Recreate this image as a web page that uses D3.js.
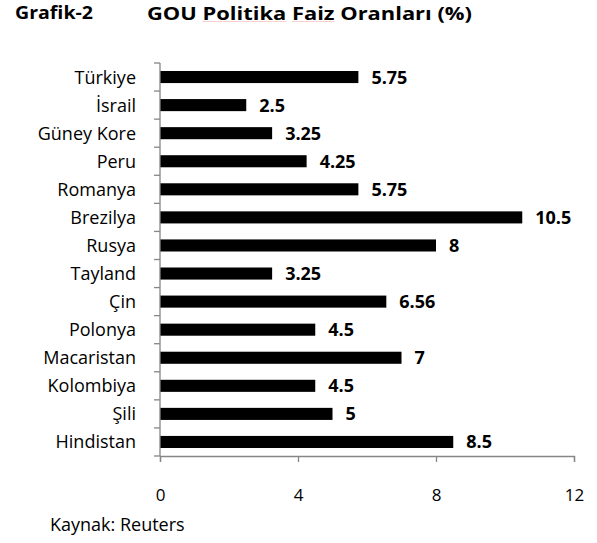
<!DOCTYPE html>
<html>
<head>
<meta charset="utf-8">
<script src="https://cdn.jsdelivr.net/npm/d3@7"></script>
<style>
  body { margin: 0; background: #fff; }
  text { font-family: 'Open Sans', sans-serif; }
</style>
</head>
<body>
<svg id="chart" width="597" height="543"></svg>
<script>
// data
const countries = ['Türkiye', 'İsrail', 'Güney Kore', 'Peru', 'Romanya', 'Brezilya', 'Rusya',
  'Tayland', 'Çin', 'Polonya', 'Macaristan', 'Kolombiya', 'Şili', 'Hindistan']
const rates = [5.75, 2.5, 3.25, 4.25, 5.75, 10.5, 8, 3.25, 6.56, 4.5, 7, 4.5, 5, 8.5]
const rateLabels = ['5.75', '2.5', '3.25', '4.25', '5.75', '10.5', '8', '3.25', '6.56', '4.5', '7', '4.5', '5', '8.5']
const xTicks = [0, 4, 8, 12]

const margin = { left: 160, top: 63, right: 23, bottom: 87 }
const width = 597 - margin.left - margin.right
const height = 543 - margin.top - margin.bottom

const svg = d3.select('#chart')
const g = svg.append('g').attr('transform', `translate(${margin.left},${margin.top})`)

const x = d3.scaleLinear().domain([0, 12]).range([0, width])
const y = d3.scaleBand().domain(countries).range([0, height]).paddingInner(0.57).paddingOuter(0.285)

// title
svg.append('text').attr('x', 15).attr('y', 19)
  .attr('font-size', 17).attr('font-weight', 700)
  .attr('textLength', 78).attr('lengthAdjust', 'spacingAndGlyphs')
  .text('Grafik-2')
const title = svg.append('text').attr('x', 147).attr('y', 19.5)
  .attr('font-size', 18.5).attr('font-weight', 700)
  .attr('textLength', 325).attr('lengthAdjust', 'spacingAndGlyphs')
const titleParts = ['GOU ', 'Politika', ' ', 'Faiz', ' Oranları (%)']
titleParts.forEach((t) => title.append('tspan').text(t))
// faint spell-check underline under "Politika" and "Faiz"
title.selectAll('tspan').each(function (d, i) {
  if (i !== 1 && i !== 3) return
  const b = this.getBBox()
  svg.append('line')
    .attr('x1', b.x).attr('x2', b.x + b.width)
    .attr('y1', 21.5).attr('y2', 21.5)
    .attr('stroke', '#f6c4c4').attr('stroke-width', 0.8)
})

// bars
g.selectAll('.bar')
  .data(countries)
  .enter()
  .append('rect')
  .attr('class', 'bar')
  .attr('x', 0)
  .attr('y', (d) => y(d))
  .attr('width', (d, i) => x(rates[i]))
  .attr('height', y.bandwidth())
  .attr('fill', '#000')

// value labels
g.selectAll('.val')
  .data(countries)
  .enter()
  .append('text')
  .attr('x', (d, i) => x(rates[i]) + 13)
  .attr('y', (d) => y(d) + y.bandwidth() / 2)
  .attr('dy', '0.36em')
  .attr('font-size', 18)
  .attr('font-weight', 700)
  .text((d, i) => rateLabels[i])

// y axis: gray line with ticks between categories
const axisColor = '#868686'
g.append('line').attr('x1', 0).attr('x2', 0).attr('y1', 0).attr('y2', height)
  .attr('stroke', axisColor).attr('stroke-width', 1.3)
d3.range(countries.length + 1).forEach((i) => {
  g.append('line').attr('x1', -6).attr('x2', 0)
    .attr('y1', i * height / countries.length).attr('y2', i * height / countries.length)
    .attr('stroke', axisColor).attr('stroke-width', 1.3)
})
g.selectAll('.cat')
  .data(countries)
  .enter()
  .append('text')
  .attr('x', -24)
  .attr('y', (d) => y(d) + y.bandwidth() / 2)
  .attr('dy', '0.36em')
  .attr('text-anchor', 'end')
  .attr('font-size', 18)
  .text((d) => d)

// x axis
const xAxis = d3.axisBottom(x).tickValues(xTicks).tickSize(6).tickPadding(27).tickFormat(d3.format('d'))
const xg = g.append('g').attr('transform', `translate(0,${height})`).call(xAxis)
xg.select('.domain').attr('stroke', axisColor).attr('stroke-width', 1.3)
xg.selectAll('line').attr('stroke', axisColor).attr('stroke-width', 1.3)
xg.selectAll('text').attr('font-size', 17).attr('fill', '#000')
  .attr('font-family', "'Open Sans', sans-serif")

// source
svg.append('text').attr('x', 50).attr('y', 531).attr('font-size', 18).text('Kaynak: Reuters')
</script>
</body>
</html>
